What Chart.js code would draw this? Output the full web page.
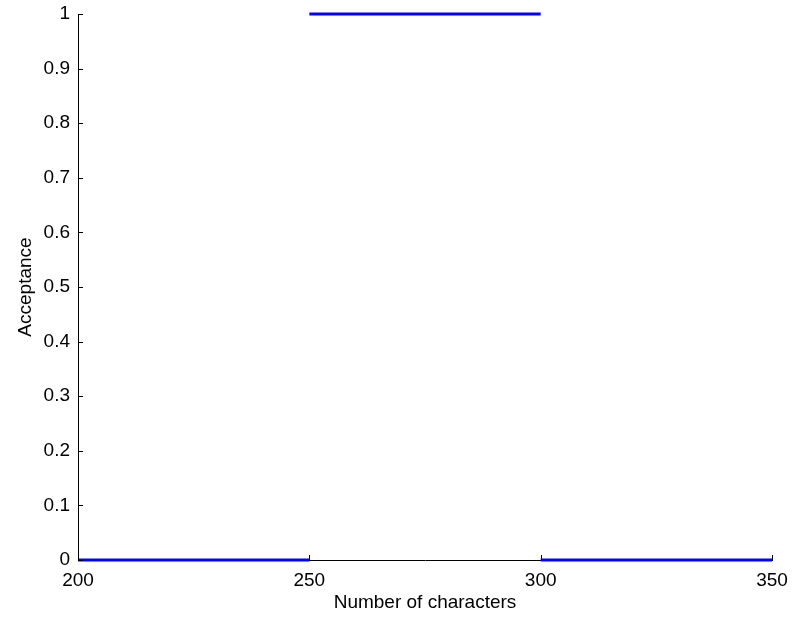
<!DOCTYPE html>
<html>
<head>
<meta charset="utf-8">
<script src="https://cdn.jsdelivr.net/npm/chart.js@4/dist/chart.umd.min.js"></script>
<style>
  html, body { margin: 0; padding: 0; background: #fff; }
  #wrap { width: 793px; height: 622px; }
</style>
</head>
<body>
<div id="wrap"><canvas id="chart" width="793" height="622"></canvas></div>
<script>
// step segments: each segment runs from segStart to segEnd at segValue
const segStart = [200, 250, 300];
const segEnd = [250, 300, 350];
const segValue = [0, 1, 0];

const xTicks = [200, 250, 300, 350];
const yTicks = [0, 0.1, 0.2, 0.3, 0.4, 0.5, 0.6, 0.7, 0.8, 0.9, 1];

const FONT = { family: '"Liberation Sans", Arial, sans-serif', size: 19 };

const datasets = segValue.map((v, i) => ({
  data: [{ x: segStart[i], y: v }, { x: segEnd[i], y: v }],
  borderColor: '#0000ff',
  borderWidth: 3,
  pointRadius: 0,
  fill: false,
  tension: 0,
  clip: 4
}));

// short inward tick marks, MATLAB style
const innerTicks = {
  id: 'innerTicks',
  afterDraw(chart) {
    const { ctx, chartArea, scales } = chart;
    ctx.save();
    ctx.strokeStyle = '#000';
    ctx.lineWidth = 1;
    ctx.beginPath();
    xTicks.forEach(t => {
      const px = Math.round(scales.x.getPixelForValue(t)) + 0.5;
      ctx.moveTo(px, chartArea.bottom);
      ctx.lineTo(px, chartArea.bottom - 5);
    });
    yTicks.forEach(t => {
      const py = Math.round(scales.y.getPixelForValue(t)) + 0.5;
      ctx.moveTo(chartArea.left, py);
      ctx.lineTo(chartArea.left + 5, py);
    });
    ctx.stroke();
    ctx.restore();
  }
};

new Chart(document.getElementById('chart'), {
  type: 'line',
  data: { datasets },
  options: {
    responsive: false,
    animation: false,
    layout: { padding: { top: 14, right: 21, left: 0, bottom: 0 } },
    plugins: { legend: { display: false }, tooltip: { enabled: false } },
    scales: {
      x: {
        type: 'linear',
        min: 200,
        max: 350,
        afterBuildTicks: s => { s.ticks = xTicks.map(v => ({ value: v })); },
        afterFit: s => { s.height = 62; s.paddingLeft = 0; s.paddingRight = 0; },
        grid: { drawOnChartArea: false, drawTicks: false },
        border: { color: '#000', width: 1 },
        ticks: { color: '#000', font: FONT, padding: 9, maxRotation: 0, callback: v => String(v) },
        title: { display: true, text: 'Number of characters', color: '#000', font: FONT, padding: { top: 0, bottom: 8 } }
      },
      y: {
        type: 'linear',
        min: 0,
        max: 1,
        afterBuildTicks: s => { s.ticks = yTicks.map(v => ({ value: v })); },
        afterFit: s => { s.width = 78; s.paddingTop = 0; s.paddingBottom = 0; },
        grid: { drawOnChartArea: false, drawTicks: false },
        border: { color: '#000', width: 1 },
        ticks: { color: '#000', font: FONT, padding: 8, callback: v => String(+v.toFixed(1)) },
        title: { display: true, text: 'Acceptance', color: '#000', font: FONT, padding: { top: 14, bottom: 0 } }
      }
    }
  },
  plugins: [innerTicks]
});
</script>
</body>
</html>
